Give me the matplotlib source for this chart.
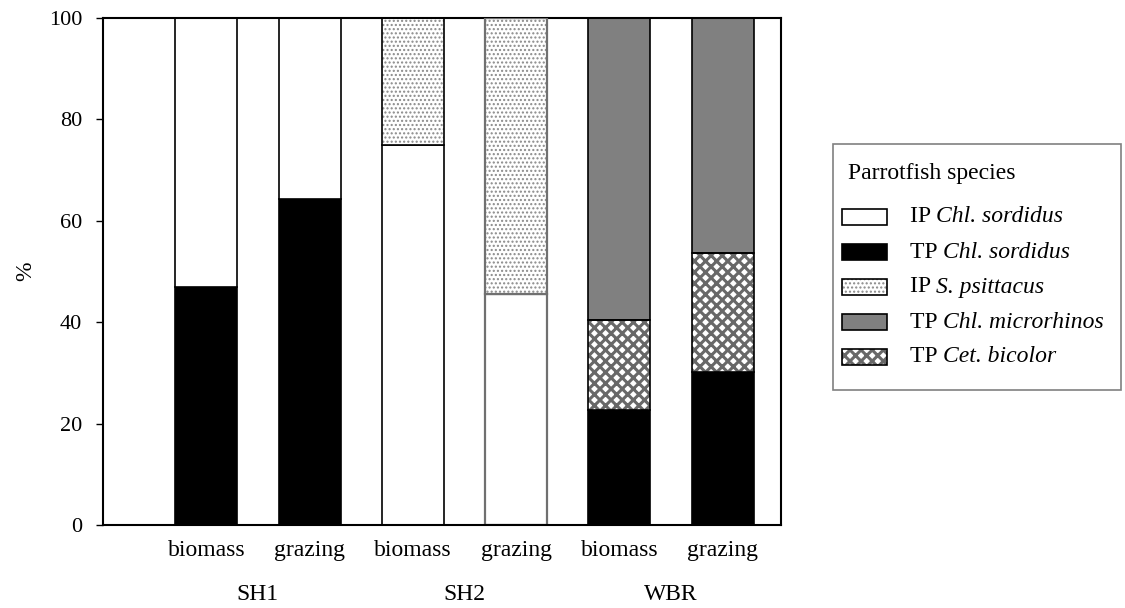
import matplotlib
matplotlib.use('Agg')
import matplotlib.pyplot as plt
from matplotlib.patches import Rectangle
from matplotlib.transforms import blended_transform_factory
import numpy as np

plt.rcParams['font.family'] = ['Liberation Serif', 'DejaVu Serif']
plt.rcParams['hatch.linewidth'] = 1.0

# site groups and the two measures per site
sites = ['SH1', 'SH2', 'WBR']
measures = ['biomass', 'grazing', 'biomass', 'grazing', 'biomass', 'grazing']

# percentage contribution of each species/phase (stacked bottom to top)
tp_chl_sordidus = [47.0, 64.3, 0, 0, 22.7, 30.2]
ip_chl_sordidus = [53.0, 35.7, 75.0, 45.5, 0, 0]
ip_s_psittacus = [0, 0, 25.0, 54.5, 0, 0]
tp_cet_bicolor = [0, 0, 0, 0, 17.7, 23.4]
tp_chl_microrhinos = [0, 0, 0, 0, 59.6, 46.4]

# (phase, species, values, face, hatch, hatch colour, hatch width)
series = [
    ('TP', 'Chl. sordidus', tp_chl_sordidus, 'black', None, None, None),
    ('IP', 'Chl. sordidus', ip_chl_sordidus, 'white', None, None, None),
    ('IP', 'S. psittacus', ip_s_psittacus, 'white', '....', '#8a8a8a', 1.0),
    ('TP', 'Cet. bicolor', tp_cet_bicolor, 'white', 'xxx', '#686868', 2.2),
    ('TP', 'Chl. microrhinos', tp_chl_microrhinos, '#808080', None, None, None),
]
legend_order = [1, 0, 2, 4, 3]

W, H = 1125, 608
fig = plt.figure(figsize=(W / 100, H / 100), dpi=100)
ax = fig.add_axes([0.0916, 0.1365, 0.603, 0.834])


def outline_for(i):
    # SH2 grazing bar is outlined in grey
    return ('#707070', 1.6) if i == 3 else ('black', 1.2)


def set_hlw(patch, lw):
    if hasattr(patch, 'set_hatch_linewidth'):
        patch.set_hatch_linewidth(lw)


x = np.arange(len(measures))
width = 0.6
bottom = np.zeros(len(measures))
for phase, name, vals, face, hatch, hcol, hlw in series:
    vals = np.array(vals, dtype=float)
    for i, v in enumerate(vals):
        if v <= 0:
            continue
        ec, lw = outline_for(i)
        if hatch:
            # hatch takes the edge colour, so draw the fill and the outline separately
            with plt.rc_context({'hatch.linewidth': hlw}):
                bars = ax.bar(x[i], v, width, bottom=bottom[i], facecolor=face,
                              hatch=hatch, edgecolor=hcol, linewidth=0, zorder=2)
            set_hlw(bars[0], hlw)
            ax.bar(x[i], v, width, bottom=bottom[i], fill=False,
                   edgecolor=ec, linewidth=lw, zorder=3)
        else:
            ax.bar(x[i], v, width, bottom=bottom[i], facecolor=face,
                   edgecolor=ec, linewidth=lw, zorder=2)
    bottom += vals

ax.set_xlim(-1.0, 5.57)
ax.set_ylim(0, 100)
ax.set_yticks([0, 20, 40, 60, 80, 100])
ax.tick_params(axis='y', direction='out', length=5, labelsize=16, width=1, pad=10)
ax.set_xticks(x)
ax.set_xticklabels(measures, fontsize=17)
ax.tick_params(axis='x', length=0, pad=11)
ax.set_ylabel('%', fontsize=17, labelpad=9)
for s in ax.spines.values():
    s.set_linewidth(1.5)

# site names under each pair of bars
trans = blended_transform_factory(ax.transData, fig.transFigure)
for k, site in enumerate(sites):
    ax.text(2 * k + 0.5, 1 - 595 / H, site, transform=trans, ha='center',
            va='center', fontsize=17)


# legend box, laid out in figure pixels
def fx(px):
    return px / W


def fy(py):
    return 1 - py / H


fig.add_artist(Rectangle((fx(833), fy(390)), fx(1121) - fx(833), fy(144) - fy(390),
                         transform=fig.transFigure, fill=False,
                         edgecolor='#808080', linewidth=1.2))
fig.text(fx(848), fy(173), 'Parrotfish species', fontsize=17, va='center')
for row, k in enumerate(legend_order):
    phase, name, vals, face, hatch, hcol, hlw = series[k]
    yc = 217 + 35 * row
    if hatch:
        with plt.rc_context({'hatch.linewidth': hlw}):
            sw = fig.add_artist(Rectangle((fx(842), fy(yc + 8)), fx(45), fy(0) - fy(16),
                                          transform=fig.transFigure, facecolor=face,
                                          hatch=hatch, edgecolor=hcol, linewidth=0))
        set_hlw(sw, hlw)
    fig.add_artist(Rectangle((fx(842), fy(yc + 8)), fx(45), fy(0) - fy(16),
                             transform=fig.transFigure,
                             facecolor='none' if hatch else face,
                             edgecolor='black', linewidth=1.2))
    t = fig.text(fx(910), fy(yc), phase + ' ', fontsize=17, va='center')
    ax.annotate(name, xy=(1, 0.5), xycoords=t, va='center', ha='left',
                fontsize=17, style='italic', annotation_clip=False)

fig.savefig('out.png', dpi=100)
